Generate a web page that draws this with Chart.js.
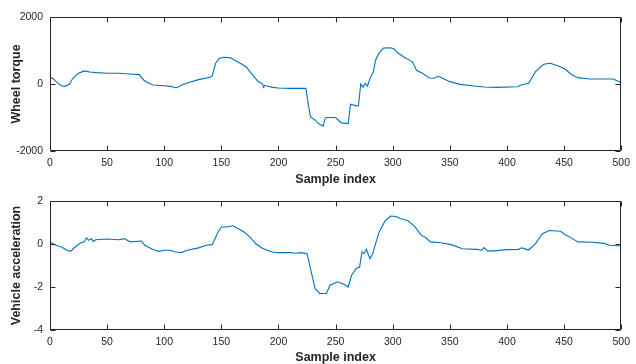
<!DOCTYPE html>
<html>
<head>
<meta charset="utf-8">
<script src="https://cdn.jsdelivr.net/npm/chart.js@4/dist/chart.umd.min.js"></script>
<style>
  html, body { margin: 0; padding: 0; background: #fff; overflow: hidden; width: 636px; height: 364px; }
  canvas { position: absolute; left: 0; }
  #torqueChart { top: 0; }
  #accelChart { top: 180px; }
</style>
</head>
<body>
<canvas id="torqueChart" width="636" height="200"></canvas>
<canvas id="accelChart" width="636" height="190"></canvas>
<script>
const torqueIdx = [0, 3, 6, 10, 13, 17, 19, 21, 25, 30, 33, 35, 40, 50, 60, 70, 78, 82, 85, 90,
    100, 105, 111, 115, 120, 130, 140, 142, 144, 145, 148, 152, 158, 162, 168, 172, 178, 182, 186, 187,
    188, 190, 195, 200, 210, 224, 226, 228, 232, 235, 239, 241, 242, 250, 255, 261, 263, 269, 270, 272,
    274, 276, 278, 280, 283, 285, 288, 292, 298, 301, 304, 310, 317, 321, 326, 332, 336, 340, 345, 350,
    359, 371, 380, 391, 409, 413, 419, 425, 432, 438, 446, 451, 457, 462, 472, 493, 500];
const torqueVals = [220, 150, 50, -50, -70, -10, 120, 200, 320, 390, 370, 360, 340, 320, 320, 300, 280, 120, 50, -30,
    -50, -70, -110, -40, 30, 130, 200, 240, 500, 620, 760, 800, 780, 700, 590, 500, 240, 80, 0, -100,
    -40, -60, -100, -120, -130, -130, -600, -980, -1080, -1180, -1260, -1010, -1000, -1000, -1160, -1180, -600, -660, -640, 0,
    -100, 20, -60, 160, 360, 720, 920, 1070, 1080, 1050, 940, 800, 670, 400, 320, 180, 170, 230, 150, 70,
    -10, -60, -90, -100, -80, -20, 20, 370, 590, 620, 520, 440, 270, 190, 150, 150, 40];

const accelIdx = [0, 5, 10, 15, 18, 22, 27, 30, 32, 34, 36, 38, 40, 50, 60, 65, 70, 80, 83, 90,
    95, 100, 105, 110, 115, 120, 130, 137, 142, 147, 150, 155, 160, 165, 170, 175, 180, 185, 190, 195,
    200, 210, 215, 220, 225, 228, 232, 236, 242, 245, 252, 258, 261, 264, 268, 271, 273, 275, 277, 280,
    282.5, 285, 288, 293, 298, 303, 307, 313, 319, 325, 329, 333, 342, 351, 361, 374, 378, 380, 383, 388,
    400, 410, 413, 419, 425, 431, 437, 447, 451, 455, 462, 475, 485, 490, 500];
const accelVals = [0.1, -0.06, -0.14, -0.29, -0.34, -0.14, 0.06, 0.1, 0.28, 0.17, 0.25, 0.12, 0.2, 0.23, 0.2, 0.25, 0.1, 0.14, -0.06, -0.26,
    -0.34, -0.29, -0.29, -0.37, -0.4, -0.29, -0.18, -0.06, -0.03, 0.55, 0.79, 0.79, 0.85, 0.71, 0.55, 0.32, 0.02, -0.17, -0.29, -0.37,
    -0.4, -0.4, -0.43, -0.4, -0.45, -1.14, -2.07, -2.3, -2.3, -1.92, -1.76, -1.89, -2.0, -1.45, -1.14, -1.07, -0.37, -0.45, -0.25, -0.68,
    -0.45, 0.02, 0.55, 1.05, 1.3, 1.28, 1.17, 1.09, 0.83, 0.4, 0.29, 0.1, 0.06, -0.03, -0.22, -0.25, -0.29, -0.17, -0.32, -0.32,
    -0.26, -0.25, -0.18, -0.28, 0.02, 0.48, 0.63, 0.59, 0.43, 0.32, 0.1, 0.08, 0.03, -0.06, -0.09];

const axisColor = '#262626';
const lineColor = '#0072BD';
const fontFamily = "'Liberation Sans', Arial, Helvetica, sans-serif";

// MATLAB style box with inward ticks on all four sides
const matlabBox = {
    id: 'matlabBox',
    afterDraw(chart) {
        const {ctx, chartArea: a, scales: {x, y}} = chart;
        const L = Math.round(a.left) + 0.5, R = Math.round(a.right) - 0.5;
        const T = Math.round(a.top) + 0.5, B = Math.round(a.bottom) - 0.5;
        const len = 5;
        ctx.save();
        ctx.strokeStyle = axisColor;
        ctx.lineWidth = 1;
        ctx.beginPath();
        ctx.rect(L, T, R - L, B - T);
        x.ticks.forEach(t => {
            const px = Math.round(x.getPixelForValue(t.value)) + 0.5;
            ctx.moveTo(px, B); ctx.lineTo(px, B - len);
            ctx.moveTo(px, T); ctx.lineTo(px, T + len);
        });
        y.ticks.forEach(t => {
            const py = Math.round(y.getPixelForValue(t.value)) + 0.5;
            ctx.moveTo(L, py); ctx.lineTo(L + len, py);
            ctx.moveTo(R, py); ctx.lineTo(R - len, py);
        });
        ctx.stroke();
        ctx.restore();
    }
};

function makeChart(id, idx, vals, yLabel, yMin, yMax, yStep, padTop, xHeight, xTitlePad) {
    const points = idx.map((v, i) => ({x: v, y: vals[i]}));
    return new Chart(document.getElementById(id), {
        type: 'line',
        data: {
            datasets: [{
                data: points,
                borderColor: lineColor,
                borderWidth: 1.1,
                pointRadius: 0,
                tension: 0,
                fill: false
            }]
        },
        options: {
            responsive: false,
            animation: false,
            devicePixelRatio: 1,
            layout: {padding: {top: padTop, right: 12, left: 0, bottom: 0}},
            plugins: {legend: {display: false}, tooltip: {enabled: false}},
            scales: {
                x: {
                    type: 'linear',
                    min: 0, max: 500,
                    grid: {display: false, drawTicks: false},
                    border: {display: false},
                    ticks: {
                        stepSize: 50, autoSkip: false, maxRotation: 0, padding: 6,
                        color: axisColor, font: {family: fontFamily, size: 10.5},
                        callback: v => String(v)
                    },
                    title: {
                        display: true, text: 'Sample index', color: axisColor,
                        font: {family: fontFamily, size: 12.5, weight: 'bold'},
                        padding: {top: 0, bottom: xTitlePad}
                    },
                    afterFit(scale) { scale.height = xHeight; }
                },
                y: {
                    min: yMin, max: yMax,
                    grid: {display: false, drawTicks: false},
                    border: {display: false},
                    ticks: {
                        stepSize: yStep, autoSkip: false, padding: 7,
                        color: axisColor, font: {family: fontFamily, size: 10.5},
                        callback: v => String(v)
                    },
                    title: {
                        display: true, text: yLabel, color: axisColor,
                        font: {family: fontFamily, size: 12.5, weight: 'bold'},
                        padding: {top: 9.5, bottom: 0}
                    },
                    afterFit(scale) { scale.width = 50; }
                }
            }
        },
        plugins: [matlabBox]
    });
}

makeChart('torqueChart', torqueIdx, torqueVals, 'Wheel torque', -2000, 2000, 2000, 17, 49, 13);
makeChart('accelChart', accelIdx, accelVals, 'Vehicle acceleration', -4, 2, 2, 21, 40, 4.5);
</script>
</body>
</html>
